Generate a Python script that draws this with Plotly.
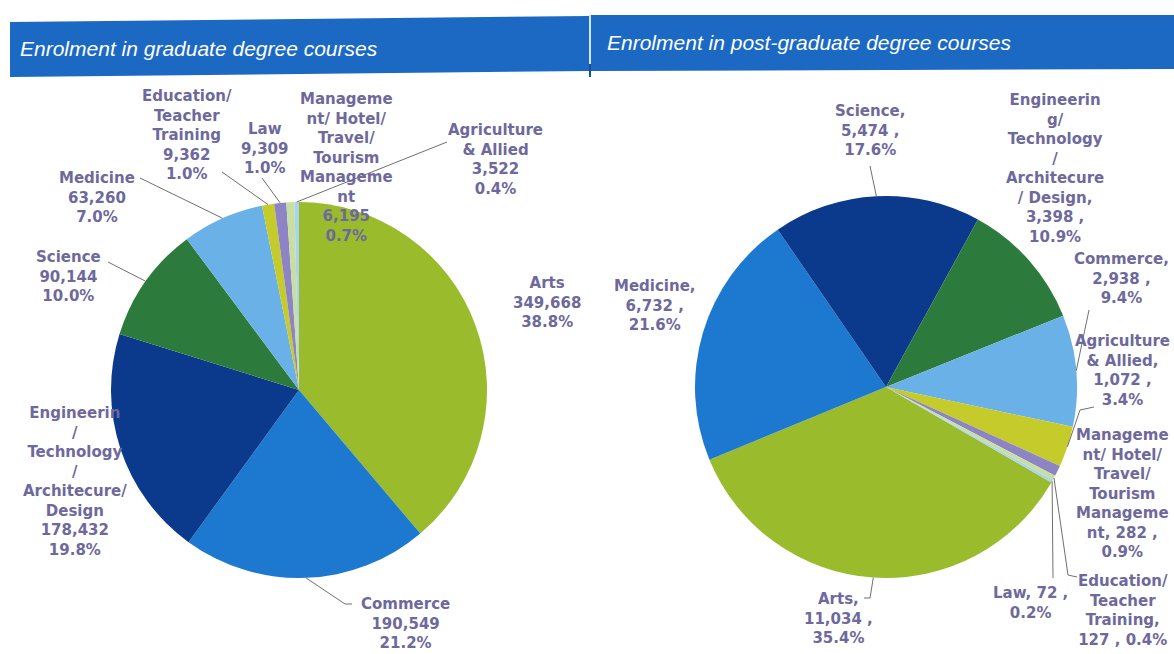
import math
import plotly.graph_objects as go

W, H = 1174, 654

# ---------------- data ----------------
grad_categories = ["Arts", "Commerce", "Engineering/Technology/Architecure/Design", "Science",
                   "Medicine", "Education/Teacher Training", "Law",
                   "Management/Hotel/Travel/Tourism Management", "Agriculture & Allied"]
grad_values = [349668, 190549, 178432, 90144, 63260, 9362, 9309, 6195, 3522]
grad_label_names = ["Arts", "Commerce",
                    "Engineerin<br>/<br>Technology<br>/<br>Architecure/<br>Design",
                    "Science", "Medicine", "Education/<br>Teacher<br>Training", "Law",
                    "Manageme<br>nt/ Hotel/<br>Travel/<br>Tourism<br>Manageme<br>nt",
                    "Agriculture<br>& Allied"]

pg_categories = ["Arts", "Medicine", "Science", "Engineering/Technology/Architecure/Design",
                 "Commerce", "Agriculture & Allied", "Management/Hotel/Travel/Tourism Management",
                 "Education/Teacher Training", "Law"]
pg_values = [11034, 6732, 5474, 3398, 2938, 1072, 282, 127, 72]
pg_label_names = ["Arts,", "Medicine,", "Science,",
                  "Engineerin<br>g/<br>Technology<br>/<br>Architecure<br>/ Design,",
                  "Commerce,", "Agriculture<br>& Allied,",
                  "Manageme<br>nt/ Hotel/<br>Travel/<br>Tourism<br>Manageme<br>nt,",
                  "Education/<br>Teacher<br>Training,", "Law,"]
pg_sep_name_value = ["<br>", "<br>", "<br>", "<br>", "<br>", "<br>", " ", "<br>", " "]
pg_sep_value_pct = ["<br>", "<br>", "<br>", "<br>", "<br>", "<br>", "<br>", " ", "<br>"]

slice_colors = ["#9abb2b", "#1d79cf", "#0b3a8c", "#2c7a3c", "#69b1e6",
                "#c6cb2c", "#8d85c3", "#c9dfa2", "#a9d4f0"]

titles = ["Enrolment in graduate degree courses", "Enrolment in post-graduate degree courses"]

# ---------------- layout settings ----------------
LABEL_COLOR = "#6d699c"
LINE_COLOR = "#6f6f6f"
BAND_COLOR = "#1b69c2"
TITLE_FONT = "Liberation Sans, Arial, sans-serif"
LABEL_FONT = "DejaVu Sans, sans-serif"

pies = [
    dict(cx=299, cy=390, r=188, rotation=0, values=grad_values, cats=grad_categories),
    dict(cx=886, cy=387, r=191, rotation=120, values=pg_values, cats=pg_categories),
]

# label centre positions (px) and leader-line anchor points (px), per slice
grad_label_pos = [(547, 302), (405, 623), (75, 482), (68, 276), (97, 197),
                  (187, 135), (264, 148), (346, 167), (495, 159)]
grad_leaders = [None, [(345, 604), (352, 604)], None, [(108, 262)], [(140, 178)],
                [(222, 172)], [(262, 178)], None, [(447, 142)]]

pg_label_pos = [(838, 618), (655, 305), (870, 131), (1055, 168), (1121, 278),
                (1122, 370), (1122, 494), (1123, 610), (1030, 603)]
pg_leaders = [[(870, 598), (864, 598)], None, [(870, 166)], None, [(1089, 310)],
              [(1080, 410), (1094, 407)], None, [(1068, 575), (1077, 577)],
              [(1053, 578)]]


def px(x):
    return x / W


def py(y):
    return 1 - y / H


def fmt_pct(v, total):
    return f"{v / total * 100:.1f}%"


grad_total = sum(grad_values)
pg_total = sum(pg_values)
grad_texts = [f"{n}<br>{v:,}<br>{fmt_pct(v, grad_total)}"
              for n, v in zip(grad_label_names, grad_values)]
pg_texts = [f"{n}{s1}{v:,} ,{s2}{fmt_pct(v, pg_total)}"
            for n, v, s1, s2 in zip(pg_label_names, pg_values, pg_sep_name_value, pg_sep_value_pct)]

fig = go.Figure()
shapes = []
annotations = []

# header bands
shapes.append(dict(type="path", xref="paper", yref="paper",
                   path=f"M {px(10)},{py(22)} L {px(589)},{py(16)} L {px(589)},{py(71)} L {px(10)},{py(77)} Z",
                   fillcolor=BAND_COLOR, line=dict(width=0), layer="below"))
shapes.append(dict(type="path", xref="paper", yref="paper",
                   path=f"M {px(591)},{py(15)} L {px(1174)},{py(15)} L {px(1174)},{py(69)} L {px(591)},{py(71)} Z",
                   fillcolor=BAND_COLOR, line=dict(width=0), layer="below"))
shapes.append(dict(type="line", xref="paper", yref="paper",
                   x0=px(590), x1=px(590), y0=py(15), y1=py(66),
                   line=dict(color="#c9dcf3", width=1.5)))
shapes.append(dict(type="line", xref="paper", yref="paper",
                   x0=px(590), x1=px(590), y0=py(64), y1=py(77),
                   line=dict(color="#1a4f8f", width=2)))
annotations.append(dict(text=titles[0], x=px(18), y=py(48), xref="paper", yref="paper",
                        xanchor="left", yanchor="middle", showarrow=False,
                        font=dict(family=TITLE_FONT, size=21, color="white", style="italic")))
annotations.append(dict(text=titles[1], x=px(605), y=py(42), xref="paper", yref="paper",
                        xanchor="left", yanchor="middle", showarrow=False,
                        font=dict(family=TITLE_FONT, size=21, color="white", style="italic")))

label_sets = [(grad_texts, grad_label_pos, grad_leaders), (pg_texts, pg_label_pos, pg_leaders)]

for p, (texts, positions, leaders) in zip(pies, label_sets):
    cx, cy, r = p["cx"], p["cy"], p["r"]
    fig.add_trace(go.Pie(
        labels=p["cats"], values=p["values"], sort=False, direction="clockwise",
        rotation=p["rotation"], textinfo="none", showlegend=False,
        marker=dict(colors=slice_colors, line=dict(width=0)),
        domain=dict(x=[px(cx - r), px(cx + r)], y=[py(cy + r), py(cy - r)]),
        hovertemplate="%{label}: %{value:,} (%{percent})<extra></extra>",
    ))
    total = sum(p["values"])
    cum = 0.0
    for v, text, pos, lead in zip(p["values"], texts, positions, leaders):
        mid = p["rotation"] + 360 * (cum + v / 2) / total
        cum += v
        a = math.radians(mid)
        tip = (cx + r * math.sin(a), cy - r * math.cos(a))
        if lead:
            pts = [tip] + lead
            path = "M " + " L ".join(f"{px(x)},{py(y)}" for x, y in pts)
            shapes.append(dict(type="path", xref="paper", yref="paper", path=path,
                               line=dict(color=LINE_COLOR, width=1)))
        annotations.append(dict(text=f"<b>{text}</b>", x=px(pos[0]), y=py(pos[1]),
                                xref="paper", yref="paper", xanchor="center", yanchor="middle",
                                showarrow=False, align="center",
                                font=dict(family=LABEL_FONT, size=15, color=LABEL_COLOR)))

fig.update_layout(
    width=W, height=H, margin=dict(l=0, r=0, t=0, b=0),
    paper_bgcolor="white", plot_bgcolor="white",
    shapes=shapes, annotations=annotations,
)

fig.write_html("out.html", config={"displayModeBar": False},
               post_script="document.body.style.margin='0';")
